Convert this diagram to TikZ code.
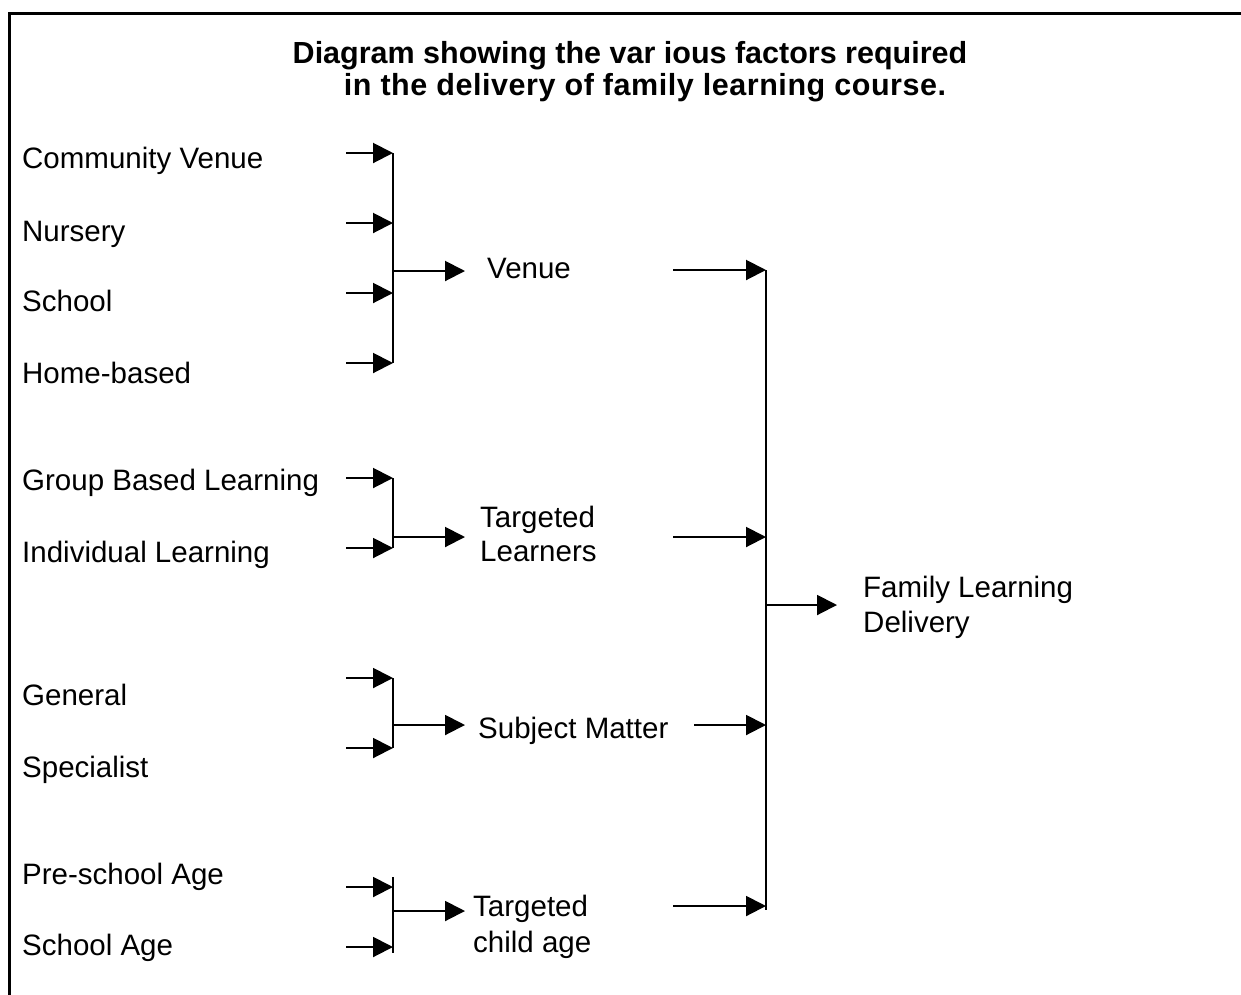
\documentclass[tikz,border=0pt]{standalone}
\usepackage{fontspec}
\setmainfont{Liberation Sans}
\usetikzlibrary{arrows.meta}
\begin{document}
\begin{tikzpicture}[x=1pt,y=-1pt,
  lbl/.style={anchor=base west,inner sep=0pt,font=\fontsize{29.5}{34}\selectfont},
  lbltwo/.style={anchor=base west,inner sep=0pt,align=left},
  ttl/.style={anchor=base,inner sep=0pt,align=center,font=\fontsize{30.5}{32}\selectfont\bfseries},
  conn/.style={line width=2pt},
  arr/.style={conn,-{Triangle[length=20pt,width=20pt]}},
  frame/.style={line width=3.5pt}]
\useasboundingbox (0,0) rectangle (1241,994);
\draw[frame] (9.5,1010) -- (9.5,13.5) -- (1260,13.5);
% title (anchor base = baseline of last line)
\node[ttl] (title) at (630,95) {Diagram showing the var ious factors required\\\hspace*{30pt}{\addfontfeature{LetterSpace=1.8}in the delivery of family learning course.}};
% left labels
\node[lbl] (cv) at (22,168) {Community Venue};
\node[lbl] (nu) at (22,241) {Nursery};
\node[lbl] (sc) at (22,311) {School};
\node[lbl] (hb) at (22,383) {Home-based};
\node[lbl] (gb) at (22,490) {Group Based Learning};
\node[lbl] (il) at (22,562) {Individual Learning};
\node[lbl] (ge) at (22,705) {General};
\node[lbl] (sp) at (22,777) {Specialist};
\node[lbl] (ps) at (22,884) {Pre-school Age};
\node[lbl] (sa) at (22,955) {School Age};
% middle labels
\node[lbl] (venue) at (487,278) {Venue};
\node[lbltwo,font=\fontsize{29.5}{34}\selectfont] (tl) at (480,561) {Targeted\\Learners};
\node[lbl] (sm) at (478,738) {Subject Matter};
\node[lbltwo,font=\fontsize{29.5}{36}\selectfont] (ca) at (473,952) {Targeted\\child age};
\node[lbltwo,font=\fontsize{29.5}{35}\selectfont] (fl) at (863,632) {Family Learning\\Delivery};
% inputs to group buses
\foreach \n/\y in {cv/153,nu/223,sc/293,hb/363,gb/478,il/548,ge/678,sp/748,ps/887,sa/947}{
  \coordinate (\n s) at (346,\y);
  \coordinate (\n t) at (393,\y);
  \draw[arr] (\n s) -- (\n t);
}
% group buses
\draw[conn] (cvt) -- (hbt);
\draw[conn] (gbt) -- (ilt);
\draw[conn] (get) -- (spt);
\coordinate (catop) at (393,877);
\coordinate (cabot) at (393,953);
\draw[conn] (catop) -- (cabot);
% group outputs
\foreach \n/\y in {venue/271,tl/537,sm/725,ca/911}{
  \coordinate (\n j) at (393,\y);
  \coordinate (\n e) at (465,\y);
  \draw[arr] (\n j) -- (\n e);
}
% to main bus
\coordinate (m1s) at (673,270); \coordinate (m1) at (766,270);
\coordinate (m2s) at (673,537); \coordinate (m2) at (766,537);
\coordinate (m3s) at (694,725); \coordinate (m3) at (766,725);
\coordinate (m4s) at (673,906); \coordinate (m4) at (766,906);
\coordinate (mbot) at (766,910);
\draw[arr] (m1s) -- (m1);
\draw[arr] (m2s) -- (m2);
\draw[arr] (m3s) -- (m3);
\draw[arr] (m4s) -- (m4);
\draw[conn] (m1) -- (mbot);
% final output
\coordinate (fj) at (766,605);
\coordinate (fe) at (837,605);
\draw[arr] (fj) -- (fe);
\end{tikzpicture}
\end{document}
